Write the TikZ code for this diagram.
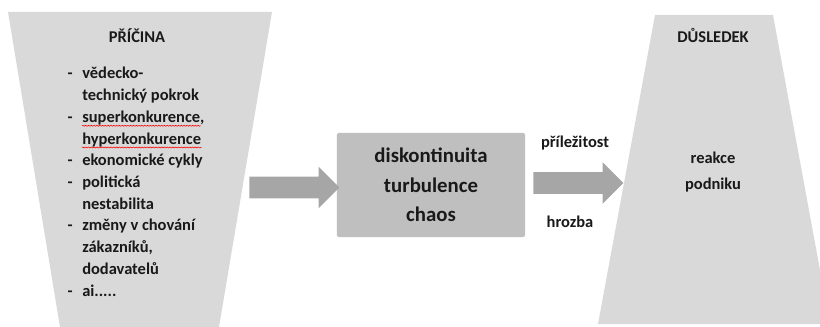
\documentclass[tikz,border=0pt]{standalone}
\usepackage{fontspec}
\setmainfont{Carlito}
\usepackage{tikz}
\usetikzlibrary{shapes.arrows}
\usetikzlibrary{decorations.pathmorphing}
\definecolor{funnelgray}{HTML}{D9D9D9}
\definecolor{boxgray}{HTML}{BFBFBF}
\definecolor{arrowgray}{HTML}{A6A6A6}
\tikzset{funnel/.style={fill=funnelgray},
  txt/.style={font=\bfseries\fontsize{11.7}{14}\selectfont,text=black!90,inner sep=0pt},
  itemline/.style={txt,anchor=base west},
  bigbox/.style={fill=boxgray,rounded corners=1pt,minimum width=47mm,minimum height=26mm,align=center,
    font=\bfseries\fontsize{14.8}{21}\selectfont,text=black!90},
  blockarrow/.style={single arrow,fill=arrowgray,inner xsep=0pt,inner ysep=2.65mm,minimum height=22.5mm,
    minimum width=10.25mm,single arrow head extend=2.5mm},
  spell/.style={red,line width=0.4pt,decorate,decoration={snake,amplitude=0.35pt,segment length=2pt}}}

\begin{document}
\begin{tikzpicture}[x=0.025cm,y=-0.025cm]
\useasboundingbox (0,0) rectangle (820,327);

% funnels
\fill[funnel] (8,12) -- (272,12) -- (219,327) -- (60,327) -- cycle;
\fill[funnel] (655,15) -- (773,15) -- (820,270) -- (820,324) -- (598,324) -- cycle;

\node[txt] (cause) at (137,36) {PŘÍČINA};
\node[txt] (effect) at (713,35) {DŮSLEDEK};

\foreach \n / \t in {0/vědecko-, 1/technický pokrok, 2/{superkonkurence,}, 3/hyperkonkurence,
  4/ekonomické cykly, 5/politická, 6/nestabilita, 7/změny v chování, 8/{zákazníků,},
  9/dodavatelů, 10/{ai.....}} {
\node[itemline] (l\n) at (82,79+21.7*\n) {\t};
}
\foreach \n in {0,2,4,5,7,10} {
\node[itemline,anchor=base east] at (73,79+21.7*\n) {-};
}
\draw[spell] ([yshift=-2.4pt]l2.base west) -- ([yshift=-2.4pt,xshift=-3pt]l2.base east);
\draw[spell] ([yshift=-2.4pt]l3.base west) -- ([yshift=-2.4pt]l3.base east);

% middle
\node[bigbox] (turb) at (431,185) {diskontinuita\\turbulence\\chaos};
\node[blockarrow] (arrL) at (289,187.5) {};
\node[blockarrow] (arrR) at (573,183) {};
\node[txt] (chance) at (575,143) {příležitost};
\node[txt] (threat) at (570,222) {hrozba};

\node[txt,align=center,font=\bfseries\fontsize{11.7}{18}\selectfont] (react) at (713,172) {reakce\\podniku};

\end{tikzpicture}
\end{document}
